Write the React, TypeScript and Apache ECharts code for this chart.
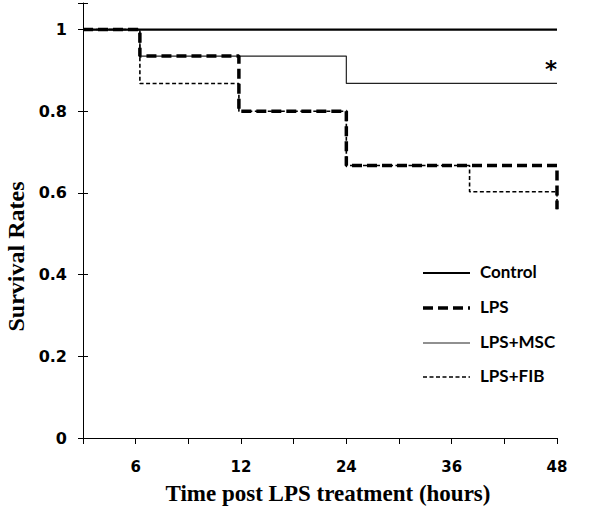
import React, { useEffect, useRef } from "react";
import * as echarts from "echarts";

// x positions are in axis units (one unit per tick; ticks labelled 6,12,24,36,48 at units 1,3,5,7,9)
const tickLabels: Record<number, string> = { 1: "6", 3: "12", 5: "24", 7: "36", 9: "48" };

const seriesNames = ["Control", "LPS", "LPS+MSC", "LPS+FIB"];
const controlTimes = [0, 9];
const controlSurv = [1, 1];
const lpsTimes = [0, 1.08, 2.96, 5, 9];
const lpsSurv = [1, 0.935, 0.8, 0.667, 0.56];
const mscTimes = [0, 1.08, 5, 9];
const mscSurv = [1, 0.935, 0.868, 0.868];
const fibTimes = [0, 1.08, 2.96, 5, 7.34, 9];
const fibSurv = [1, 0.868, 0.8, 0.667, 0.603, 0.56];

const zip = (t: number[], s: number[]) => t.map((v, i) => [v, s[i]]);

const styles: Record<string, any> = {
  Control: { color: "#000", width: 2.2, type: "solid" },
  LPS: { color: "#000", width: 3.5, type: [10, 5] },
  "LPS+MSC": { color: "#222", width: 1.2, type: "solid" },
  "LPS+FIB": { color: "#000", width: 1.6, type: [4, 2.5] },
};

export default function App() {
  const ref = useRef<HTMLDivElement>(null);
  useEffect(() => {
    const chart = echarts.init(ref.current!, null, { renderer: "svg" });
    const base = {
      type: "line",
      step: "end",
      symbol: "none",
      showSymbol: false,
      silent: true,
    };
    const legendRows = [273, 308, 343, 377];
    const legendGraphics: any[] = [];
    seriesNames.forEach((n, i) => {
      const s = styles[n];
      legendGraphics.push({
        type: "line",
        shape: { x1: 423, y1: legendRows[i], x2: 470, y2: legendRows[i] },
        style: { stroke: s.color, lineWidth: s.width, lineDash: s.type === "solid" ? null : s.type },
      });
      legendGraphics.push({
        type: "text",
        left: 480,
        top: legendRows[i] - 10,
        style: { text: n, fontFamily: "Lato", fontWeight: "bold", fontSize: 17, fill: "#000" },
      });
    });
    chart.setOption({
      animation: false,
      backgroundColor: "#ffffff",
      grid: { left: 83, right: 43, top: 3, bottom: 79, containLabel: false, outerBoundsMode: "none" },
      xAxis: {
        type: "value",
        min: 0,
        max: 9,
        interval: 1,
        name: "Time post LPS treatment (hours)",
        nameLocation: "middle",
        nameGap: 44,
        nameTextStyle: { fontFamily: "Liberation Serif", fontWeight: "bold", fontSize: 23, color: "#000", padding: [0, 0, 0, 16] },
        axisLine: { lineStyle: { color: "#000", width: 1 } },
        axisTick: { show: true, length: 6, lineStyle: { color: "#000" } },
        axisLabel: {
          margin: 21,
          fontFamily: "DejaVu Sans",
          fontWeight: "bold",
          fontSize: 15,
          color: "#000",
          formatter: (v: number) => tickLabels[Math.round(v)] ?? "",
        },
        splitLine: { show: false },
      },
      yAxis: [
        {
          type: "value",
          min: 0,
          max: 1.065,
          interval: 0.2,
          name: "Survival Rates",
          nameLocation: "middle",
          nameGap: 48,
          nameTextStyle: { fontFamily: "Liberation Serif", fontWeight: "bold", fontSize: 24, color: "#000", padding: [0, 72, 0, 0] },
          axisLine: { show: true, lineStyle: { color: "#000", width: 1 } },
          axisTick: { show: true, length: 5, lineStyle: { color: "#000" } },
          axisLabel: {
            margin: 16,
            fontFamily: "DejaVu Sans",
            fontWeight: "bold",
            fontSize: 16,
            color: "#000",
            formatter: (v: number) => (v > 1.01 ? "" : v === 0 ? "0" : v === 1 ? "1" : v.toFixed(1)),
          },
          splitLine: { show: false },
        },
        {
          type: "value",
          position: "left",
          offset: 0,
          min: 0,
          max: 1.065,
          interval: 0.2,
          axisLine: { show: false },
          axisTick: { show: true, inside: true, length: 5, lineStyle: { color: "#000" } },
          axisLabel: { show: false },
          splitLine: { show: false },
        },
      ],
      series: [
        { ...base, name: "LPS+MSC", data: zip(mscTimes, mscSurv), lineStyle: styles["LPS+MSC"], z: 3 },
        { ...base, name: "LPS+FIB", data: zip(fibTimes, fibSurv), lineStyle: styles["LPS+FIB"], z: 4 },
        { ...base, name: "LPS", data: zip(lpsTimes, lpsSurv), lineStyle: styles["LPS"], z: 5 },
        { ...base, name: "Control", data: zip(controlTimes, controlSurv), lineStyle: styles["Control"], z: 6 },
      ],
      graphic: [
        ...legendGraphics,
        { type: "text", left: 545, top: 57, style: { text: "*", fontFamily: "DejaVu Sans", fontWeight: "bold", fontSize: 23, fill: "#000" } },
      ],
    });
    return () => chart.dispose();
  }, []);
  return <div ref={ref} style={{ width: 600, height: 517, position: "absolute", left: 0, top: 0 }} />;
}
